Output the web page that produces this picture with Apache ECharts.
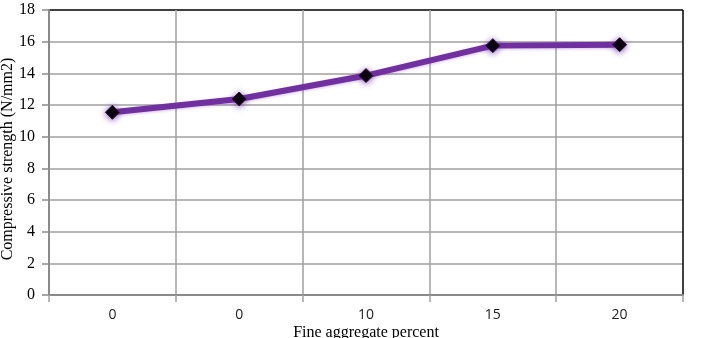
<!DOCTYPE html>
<html><head><meta charset="utf-8">
<script src="https://cdn.jsdelivr.net/npm/echarts@6/dist/echarts.min.js"></script>
<style>html,body{margin:0;padding:0;background:#fff}#c{width:705px;height:338px}</style>
</head><body><div id="c"></div>
<script>
var categories = ['0', '0', '10', '15', '20'];
var strength = [11.54, 12.38, 13.86, 15.75, 15.81];
var yMin = 0, yMax = 18, yStep = 2;

var chart = echarts.init(document.getElementById('c'), null, {renderer: 'canvas'});
var ySplitColors = [];
for (var i = 0; i < (yMax - yMin) / yStep; i++) ySplitColors.push('#a0a0a0');
ySplitColors.push('#000');
var xSplitColors = [];
for (var j = 0; j < categories.length; j++) xSplitColors.push('#a0a0a0');
xSplitColors.push('#000');

chart.setOption({
  animation: false,
  grid: {left: 49, right: 22, top: 10, bottom: 43, containLabel: false, outerBoundsMode: 'none'},
  xAxis: {
    type: 'category',
    data: categories,
    boundaryGap: true,
    name: 'Fine aggregate percent',
    nameLocation: 'middle',
    nameGap: 30,
    nameMoveOverlap: false,
    nameTextStyle: {fontFamily: 'Liberation Serif', fontSize: 16, color: '#000'},
    axisLine: {lineStyle: {color: '#8a8a8a', width: 2}},
    axisTick: {show: true, alignWithLabel: false, length: 7, lineStyle: {color: '#a0a0a0', width: 1.5}},
    axisLabel: {fontFamily: 'Open Sans', fontSize: 14, color: '#222', margin: 13},
    splitLine: {show: true, lineStyle: {color: xSplitColors, width: 1.5}}
  },
  yAxis: {
    type: 'value',
    min: yMin, max: yMax, interval: yStep,
    name: 'Compressive strength (N/mm2)',
    nameLocation: 'middle',
    nameGap: 33,
    nameMoveOverlap: false,
    nameTextStyle: {fontFamily: 'Liberation Serif', fontSize: 16, color: '#000', padding: [0, 13, 0, 0]},
    axisLine: {show: true, lineStyle: {color: '#8a8a8a', width: 2}},
    axisTick: {show: true, length: 7, lineStyle: {color: '#8a8a8a', width: 1.5}},
    axisLabel: {fontFamily: 'Liberation Serif', fontSize: 16, color: '#000', margin: 14},
    splitLine: {show: true, lineStyle: {color: ySplitColors, width: 1.5}}
  },
  series: [{
    type: 'line',
    data: strength,
    symbol: 'diamond',
    symbolSize: 14,
    lineStyle: {color: '#7030A0', width: 6, shadowColor: 'rgba(112,48,160,0.3)', shadowBlur: 3, shadowOffsetY: 1},
    itemStyle: {color: '#000', borderColor: '#2a0f40', borderWidth: 1, shadowColor: 'rgba(112,48,160,0.8)', shadowBlur: 6, shadowOffsetY: 1},
    z: 3
  }]
});
</script></body></html>
